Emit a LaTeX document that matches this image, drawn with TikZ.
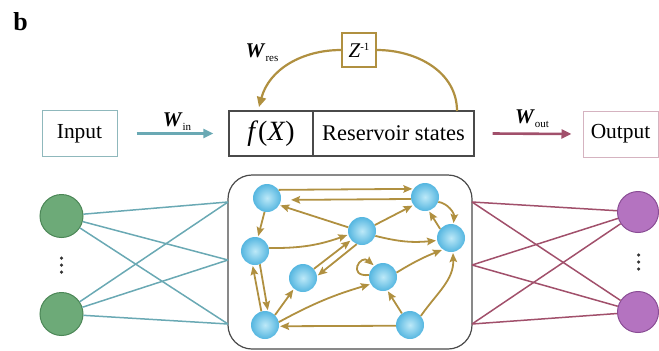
\documentclass[tikz,border=0pt]{standalone}
\usepackage{fontspec}
\setmainfont{Liberation Serif}
\usetikzlibrary{arrows.meta}
\definecolor{tealc}{HTML}{6AA9B4}
\definecolor{goldc}{HTML}{B09040}
\definecolor{winec}{HTML}{A1506B}
\definecolor{boxc}{HTML}{4A4A4A}
\definecolor{inbc}{HTML}{8FB8BC}
\definecolor{outbc}{HTML}{D5B3C0}
\definecolor{greenf}{HTML}{6DAA78}
\definecolor{greend}{HTML}{4C8757}
\definecolor{purpf}{HTML}{B473C0}
\definecolor{purpd}{HTML}{8A4D95}
\definecolor{bluein}{HTML}{BDE9F8}
\definecolor{blueout}{HTML}{55B6E0}
\newcommand\wlab[1]{\textbf{\textit{W}}\raisebox{-4bp}{\fontsize{11}{11}\selectfont #1}}
\begin{document}
\begin{tikzpicture}[x=1bp,y=1bp,
  txt/.style={font=\fontsize{21.5}{24}\selectfont},
  wl/.style={font=\fontsize{21}{24}\selectfont, inner sep=0},
  iobox/.style={draw, line width=1bp, minimum height=46bp, minimum width=75bp, inner sep=0, txt},
  rbox/.style={draw=boxc, line width=1.3bp, minimum height=45bp, inner sep=0},
  rn/.style={circle, minimum size=28bp, inner sep=0, inner color=bluein, outer color=blueout},
  ge/.style={goldc, line width=1.8bp, -{Stealth[length=9bp,width=7.5bp,inset=1.5bp]}, shorten >=1bp},
  tl/.style={tealc, line width=1.5bp},
  ml/.style={winec, line width=1.5bp},
  bigarr/.style={line width=2.6bp, -{Triangle[length=10bp,width=9bp]}},
  dot/.style={circle, fill=black!80, minimum size=3.5bp, inner sep=0}
]
\useasboundingbox (0,0) rectangle (659,-350);

% label b
\node[font=\fontsize{26}{28}\selectfont\bfseries] (lb) at (20.5,-22) {b};

% top row
\node[iobox, draw=inbc] (inp) at (79.5,-133.5) {Input};
\node[rbox, minimum width=84bp, font=\fontsize{28}{30}\selectfont] (fx) at (271,-133.5) {\textit{f}(\textit{X})};
\node[rbox, minimum width=161bp, txt, font=\fontsize{22.5}{24}\selectfont] (rs) at (393.5,-133.5) {Reservoir states};
\node[iobox, draw=outbc] (outp) at (620.5,-134) {Output};

\draw[bigarr, tealc] ([xshift=19bp]inp.east) -- ([xshift=-15bp]fx.west);
\draw[bigarr, winec] ([xshift=18bp]rs.east) -- ([xshift=-11bp]outp.west);
\node[wl] (win) at (177,-122) {\wlab{in}};
\node[wl] (wout) at (532,-119) {\wlab{out}};

% feedback
\node[draw=goldc, line width=1.8bp, minimum size=34bp, inner sep=0, font=\fontsize{21}{22}\selectfont] (z) at (359,-50) {\textit{Z}\raisebox{7bp}{\fontsize{11}{11}\selectfont -1}};
\coordinate (fbs) at (457,-111);
\coordinate (fbe) at (259,-107);
\draw[goldc, line width=2.2bp] (fbs) to[out=90,in=0] (z.east);
\draw[goldc, line width=2.2bp, -{Triangle[length=10bp,width=9bp]}] (z.west) to[out=180,in=75] (fbe);
\node[wl] (wres) at (262,-53) {\wlab{res}};

% reservoir box
\node[draw=boxc, line width=1.2bp, rounded corners=24bp, minimum width=244bp, minimum height=174bp, inner sep=0] (res) at (350,-262) {};
\coordinate (l1) at (228,-202);
\coordinate (l2) at (228,-260);
\coordinate (l3) at (228,-324);
\coordinate (r1) at (472,-202);
\coordinate (r2) at (472,-265);
\coordinate (r3) at (472,-324);

% input / output neurons
\node[circle, fill=greenf, draw=greend, line width=1bp, minimum size=43bp, inner sep=0] (g1) at (61.5,-216) {};
\node[circle, fill=greenf, draw=greend, line width=1bp, minimum size=43bp, inner sep=0] (g2) at (61.5,-314) {};
\node[circle, fill=purpf, draw=purpd, line width=1bp, minimum size=41bp, inner sep=0] (p1) at (638,-212) {};
\node[circle, fill=purpf, draw=purpd, line width=1bp, minimum size=41bp, inner sep=0] (p2) at (638,-312) {};
\node[dot] (gd1) at (61.5,-258) {};
\node[dot] (gd2) at (61.5,-265) {};
\node[dot] (gd3) at (61.5,-272) {};
\node[dot] (pd1) at (638.5,-255) {};
\node[dot] (pd2) at (638.5,-262) {};
\node[dot] (pd3) at (638.5,-269) {};

\foreach \g in {g1,g2}{\foreach \l in {l1,l2,l3}{\draw[tl] (\g) -- (\l);}}
\foreach \p in {p1,p2}{\foreach \r in {r1,r2,r3}{\draw[ml] (\r) -- (\p);}}

% reservoir neurons
\node[rn] (A) at (267,-198) {};
\node[rn] (B) at (425,-197) {};
\node[rn] (C) at (362,-231) {};
\node[rn] (D) at (451,-238) {};
\node[rn] (E) at (255,-251) {};
\node[rn] (F) at (303,-278) {};
\node[rn] (G) at (383,-277) {};
\node[rn] (H) at (265,-325) {};
\node[rn] (I) at (410,-325) {};

\draw[ge] (A.35) -- (B.145);
\draw[ge, shorten >=10bp] (B.188) -- (A.-8);
\draw[ge] (A.-100) -- (E.78);
\draw[ge] (C.165) -- (A.-30);
\draw[ge] (C.25) -- (B.-145);
\draw[ge] (B.-20) to[out=-10,in=85] (D.80);
\draw[ge] (D.140) -- (B.-75);
\draw[ge] (E.12) to[bend right=10] (C.195);
\draw[ge] (C.-20) to[bend right=10] (D.190);
\draw[ge] (F.40) -- (C.-140);
\draw[ge] (C.-112) -- (F.8);
\draw[ge] (H.105) -- (E.-100);
\draw[ge] (E.-70) -- (H.78);
\draw[ge] (H.45) -- (F.-130);
\draw[ge] (H.12) to[bend left=6] (G.-150);
\draw[ge] (G.172) .. controls +(-22,-2) and +(-14,12) .. (G.128);
\draw[ge] (G.18) to[bend left=5] (D.-125);
\draw[ge] (I.125) -- (G.-72);
\draw[ge] (I.40) to[out=55,in=-88] (D.-82);
\draw[ge] (I.183) -- (H.-5);
\end{tikzpicture}
\end{document}
